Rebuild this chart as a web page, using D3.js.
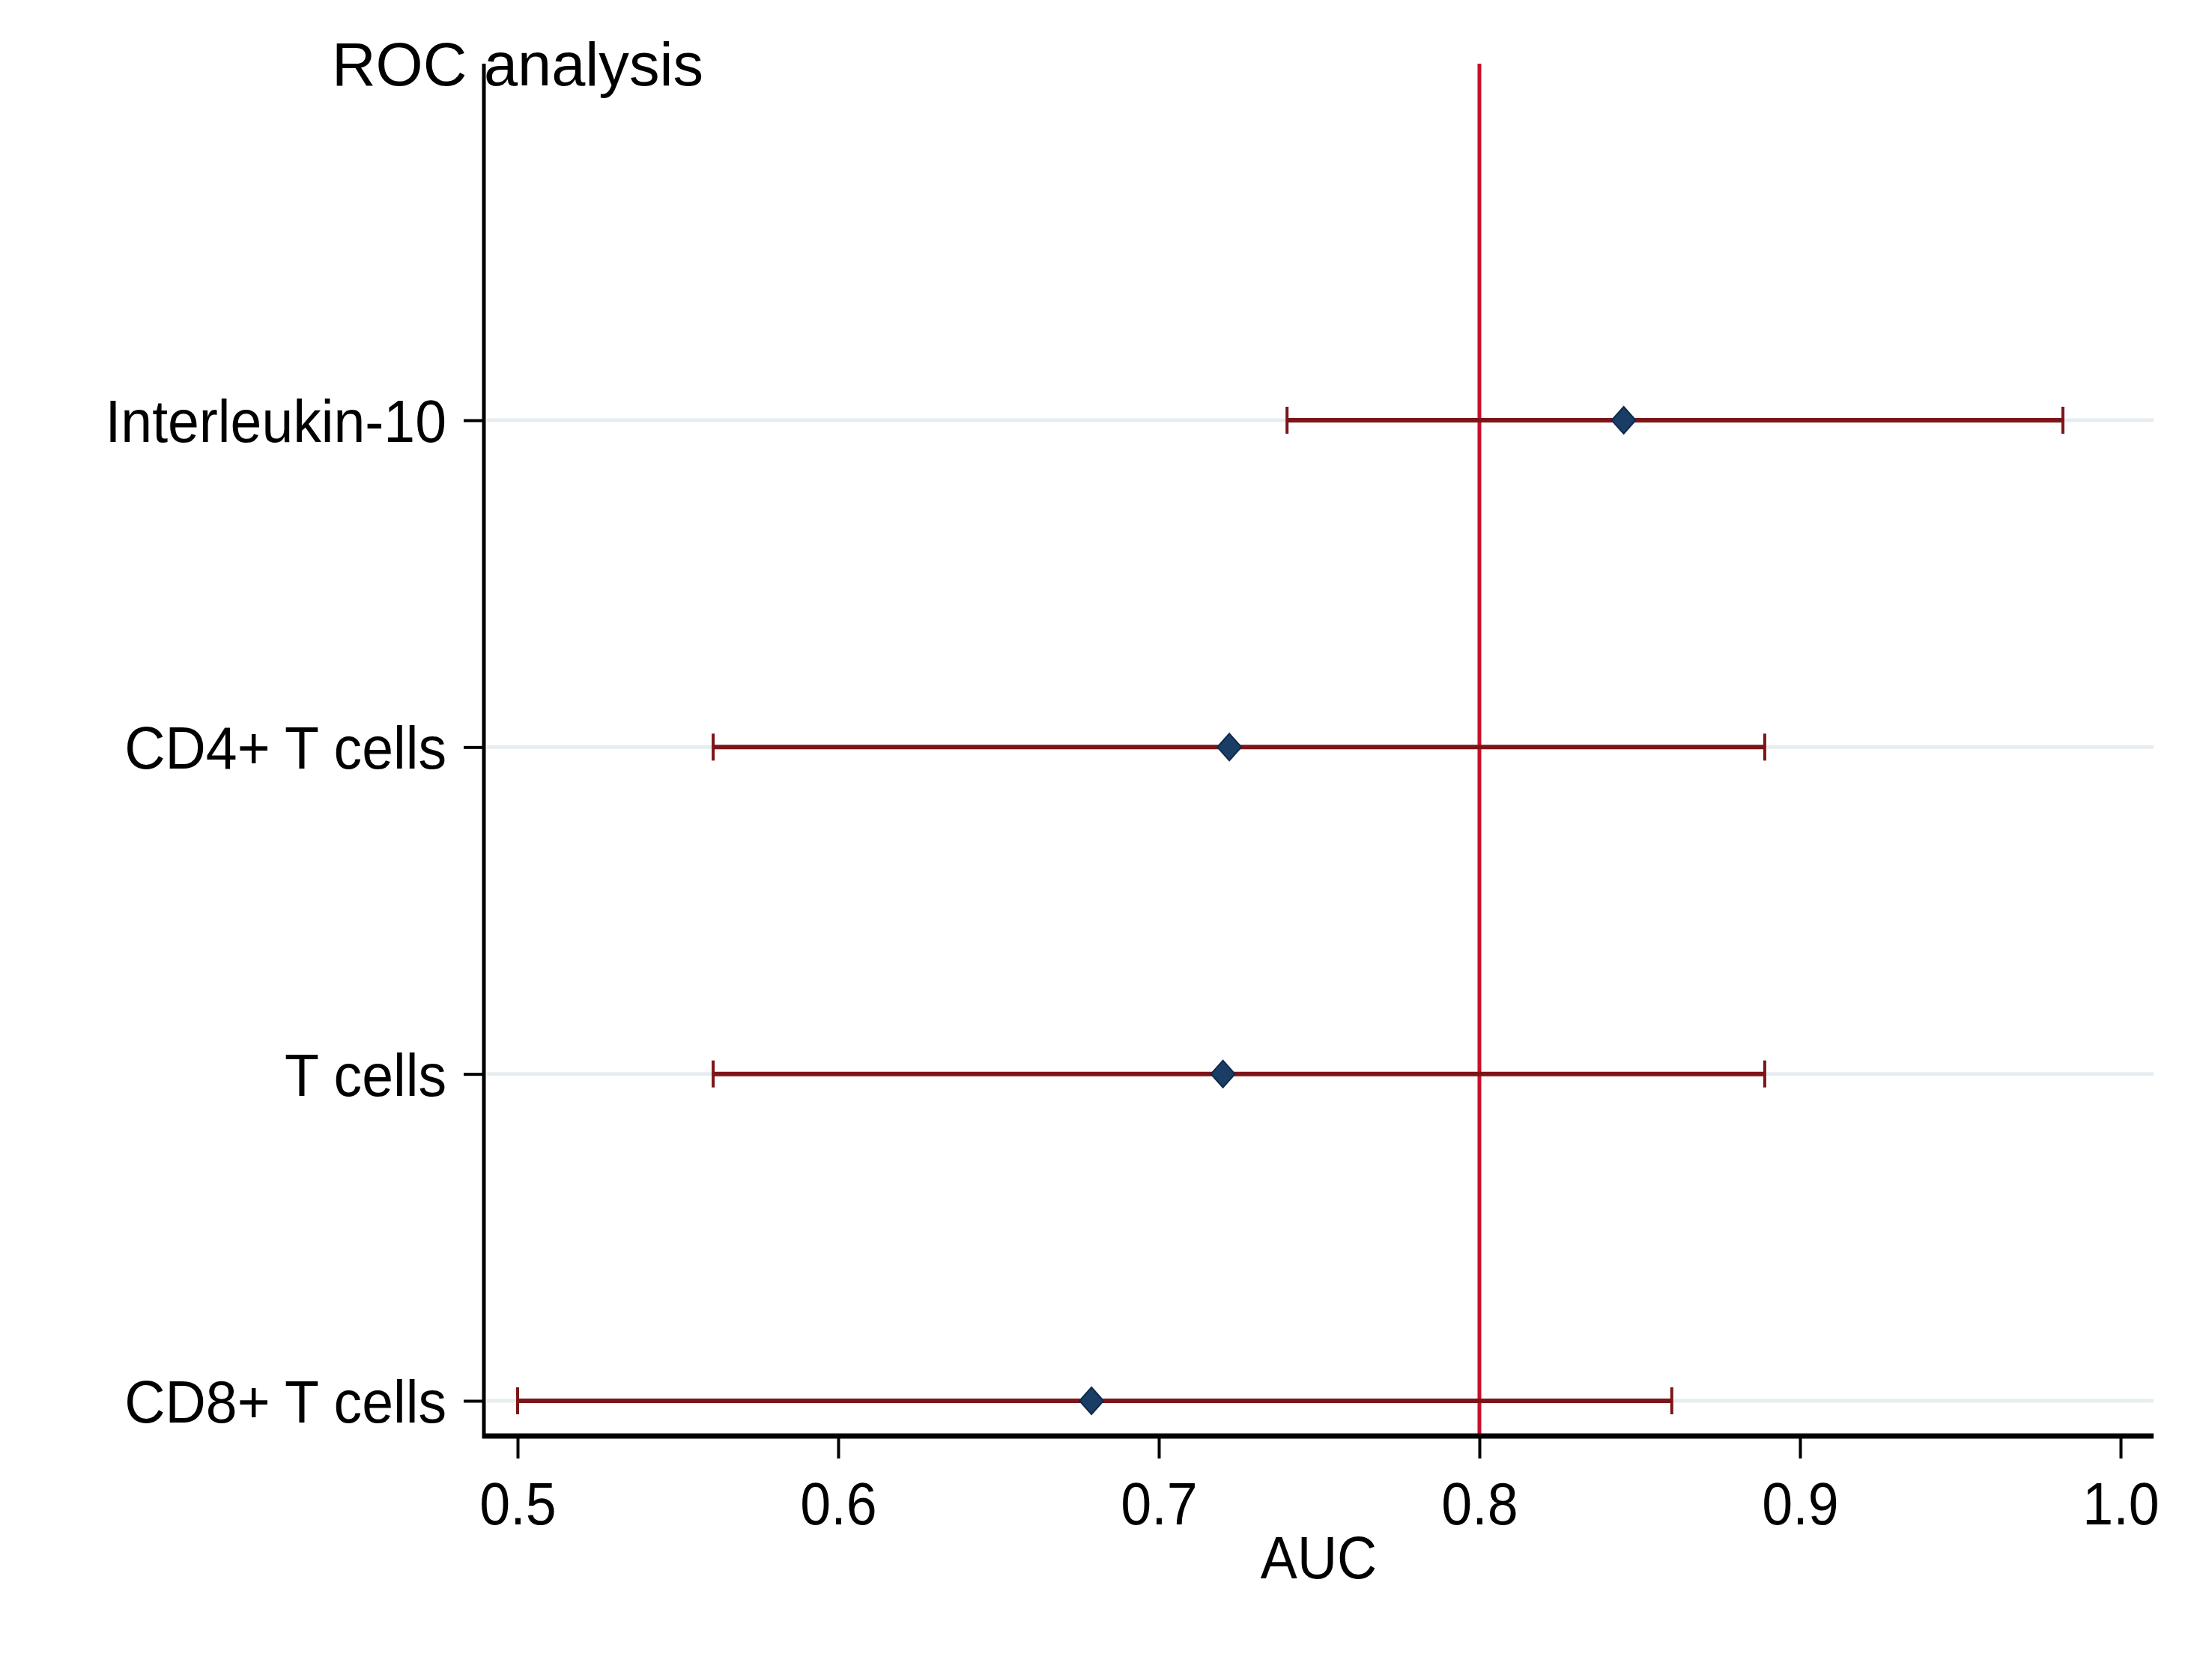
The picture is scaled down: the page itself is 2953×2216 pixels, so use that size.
<!DOCTYPE html>
<html>
<head>
<meta charset="utf-8">
<script src="https://cdn.jsdelivr.net/npm/d3@7/dist/d3.min.js"></script>
<style>
  html, body { margin: 0; padding: 0; background: #ffffff; }
  svg { display: block; }
  text { font-family: "Liberation Sans", Arial, sans-serif; fill: #000; }
</style>
</head>
<body>
<script>
// ---- data ----
const categories = ["Interleukin-10", "CD4+ T cells", "T cells", "CD8+ T cells"];
const auc      = [0.845, 0.722, 0.720, 0.679];
const ciLow    = [0.740, 0.561, 0.561, 0.500];
const ciHigh   = [0.982, 0.889, 0.889, 0.860];
const xTicks   = [0.5, 0.6, 0.7, 0.8, 0.9, 1.0];
const xTickLabels = ["0.5", "0.6", "0.7", "0.8", "0.9", "1.0"];
const refLine  = 0.8;
const titleText = "ROC analysis";
const xTitle = "AUC";

// ---- layout ----
const W = 2953, H = 2216;
const plotLeft = 646, plotRight = 2875, plotTop = 85, plotBottom = 1917;

const svg = d3.select("body").append("svg")
  .attr("width", W).attr("height", H)
  .attr("viewBox", `0 0 ${W} ${H}`);

svg.append("rect").attr("width", W).attr("height", H).attr("fill", "#fff");

const x = d3.scaleLinear().domain([0.5, 1.0]).range([691, 2831]);
const y = d3.scalePoint().domain(categories).range([561, 1870]);

const rows = categories.map((c, i) => ({ cat: c, est: auc[i], lo: ciLow[i], hi: ciHigh[i] }));

// gridlines
svg.append("g").selectAll("line").data(rows).join("line")
  .attr("x1", plotLeft + 4).attr("x2", plotRight)
  .attr("y1", d => y(d.cat)).attr("y2", d => y(d.cat))
  .attr("stroke", "#e6edf0").attr("stroke-width", 5);

// reference line
svg.append("line")
  .attr("x1", x(refLine)).attr("x2", x(refLine))
  .attr("y1", plotTop).attr("y2", plotBottom)
  .attr("stroke", "#c8102e").attr("stroke-width", 5);

// error bars
const eb = svg.append("g").attr("stroke", "#7d1518").attr("stroke-width", 6);
eb.selectAll("line.bar").data(rows).join("line").attr("class", "bar")
  .attr("x1", d => x(d.lo)).attr("x2", d => x(d.hi))
  .attr("y1", d => y(d.cat)).attr("y2", d => y(d.cat));
eb.selectAll("line.capl").data(rows).join("line").attr("class", "capl")
  .attr("stroke-width", 4)
  .attr("x1", d => x(d.lo)).attr("x2", d => x(d.lo))
  .attr("y1", d => y(d.cat) - 18).attr("y2", d => y(d.cat) + 18);
eb.selectAll("line.caph").data(rows).join("line").attr("class", "caph")
  .attr("stroke-width", 4)
  .attr("x1", d => x(d.hi)).attr("x2", d => x(d.hi))
  .attr("y1", d => y(d.cat) - 18).attr("y2", d => y(d.cat) + 18);

// markers (diamonds)
svg.append("g").selectAll("path").data(rows).join("path")
  .attr("d", d => {
    const cx = x(d.est), cy = y(d.cat), hw = 16, hh = 18;
    return `M${cx},${cy - hh}L${cx + hw},${cy}L${cx},${cy + hh}L${cx - hw},${cy}Z`;
  })
  .attr("fill", "#1a3d66").attr("stroke", "#0f2a4a").attr("stroke-width", 2);

// y axis
svg.append("line")
  .attr("x1", plotLeft).attr("x2", plotLeft)
  .attr("y1", plotTop).attr("y2", plotBottom + 3)
  .attr("stroke", "#000").attr("stroke-width", 5);

const yAxis = d3.axisLeft(y).tickSize(27).tickPadding(23).tickSizeOuter(0);
const gy = svg.append("g").attr("transform", `translate(${plotLeft},0)`).call(yAxis);
gy.select(".domain").remove();
gy.selectAll(".tick line").attr("stroke", "#000").attr("stroke-width", 4);
gy.selectAll(".tick text")
  .attr("font-size", 80)
  .attr("fill", "#000")
  .attr("x", null)
  .attr("dy", null)
  .attr("y", 0.358 * 80)
  .attr("text-anchor", "end")
  .attr("transform", "translate(-50,0) scale(0.94,1)");

// x axis
svg.append("line")
  .attr("x1", plotLeft - 2).attr("x2", plotRight)
  .attr("y1", plotBottom).attr("y2", plotBottom)
  .attr("stroke", "#000").attr("stroke-width", 7);

const xAxis = d3.axisBottom(x).tickValues(xTicks)
  .tickFormat((d, i) => xTickLabels[i]).tickSize(30).tickSizeOuter(0);
const gx = svg.append("g").attr("transform", `translate(0,${plotBottom})`).call(xAxis);
gx.select(".domain").remove();
gx.selectAll(".tick line").attr("stroke", "#000").attr("stroke-width", 4);
gx.selectAll(".tick text")
  .attr("font-size", 80)
  .attr("fill", "#000")
  .attr("dy", null)
  .attr("y", 118)
  .attr("text-anchor", "middle")
  .attr("transform", "scale(0.92,1)")
  .attr("x", 0);

// x title
svg.append("g").attr("transform", `translate(${(plotLeft + plotRight) / 2},2107)`)
  .append("text")
  .attr("text-anchor", "middle")
  .attr("font-size", 80)
  .attr("transform", "scale(0.92,1)")
  .text(xTitle);

// title
svg.append("g").attr("transform", "translate(443,114)")
  .append("text")
  .attr("text-anchor", "start")
  .attr("font-size", 82)
  .attr("transform", "scale(0.99,1)")
  .text(titleText);
</script>
</body>
</html>
